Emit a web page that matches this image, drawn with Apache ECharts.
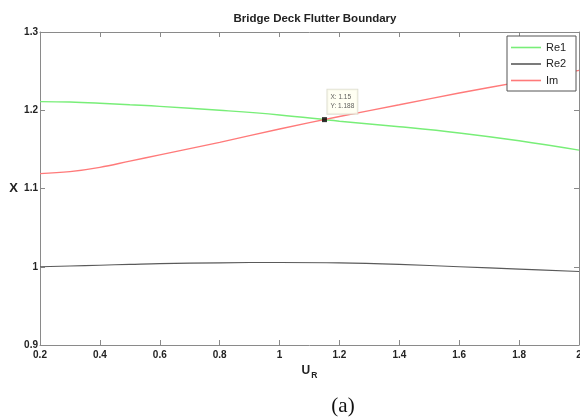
<!DOCTYPE html>
<html>
<head>
<meta charset="utf-8">
<script src="https://cdn.jsdelivr.net/npm/echarts@6/dist/echarts.min.js"></script>
<style>html,body{margin:0;padding:0;background:#fff}#c{width:580px;height:419px}</style>
</head>
<body>
<div id="c"></div>
<script>
const titleText = 'Bridge Deck Flutter Boundary';
const captionText = '(a)';
const xs = [0.2, 0.3, 0.4, 0.5, 0.6, 0.8, 1.0, 1.2, 1.4, 1.6, 1.8, 2.0];
const re1 = [1.211, 1.2105, 1.209, 1.207, 1.205, 1.200, 1.194, 1.186, 1.179, 1.171, 1.161, 1.149];
const re2 = [1.000, 1.001, 1.002, 1.003, 1.004, 1.005, 1.0055, 1.005, 1.003, 1.000, 0.997, 0.994];
const im  = [1.119, 1.1215, 1.127, 1.135, 1.143, 1.159, 1.176, 1.192, 1.207, 1.222, 1.236, 1.251];
const tipPoint = [1.15, 1.188];
const seriesNames = ['Re1', 'Re2', 'Im'];

const pairs = ys => xs.map((x, i) => [x, ys[i]]);
const font = 'Liberation Sans, Arial, sans-serif';

const chart = echarts.init(document.getElementById('c'), null, {renderer: 'canvas'});
const axisCommon = {
  axisLine: {show: true, lineStyle: {color: '#8a8a8a', width: 1}},
  axisTick: {show: true, inside: true, length: 5, lineStyle: {color: '#8a8a8a'}},
  splitLine: {show: false}
};
chart.setOption({
  animation: false,
  backgroundColor: '#fff',
  title: [
    {text: titleText, left: 310, top: 8, textAlign: 'center',
     textStyle: {fontFamily: font, fontSize: 11.5, fontWeight: 'bold', color: '#222'}},
    {text: captionText, left: 338, top: 391, textAlign: 'center',
     textStyle: {fontFamily: 'Liberation Serif, Times New Roman, serif', fontSize: 21, fontWeight: 'normal', color: '#111'}}
  ],
  grid: {left: 40, right: 1, top: 32, bottom: 74, containLabel: false, outerBoundsMode: 'none'},
  legend: {
    data: seriesNames.map(n => ({name: n, icon: 'rect'})), orient: 'vertical', left: 507, top: 36,
    padding: [5, 4, 4, 4], itemWidth: 30, itemHeight: 1.6, itemGap: 3.5,
    backgroundColor: '#fff', borderColor: '#555', borderWidth: 1,
    textStyle: {fontFamily: font, fontSize: 11, color: '#222', width: 26, lineHeight: 13}
  },
  xAxis: [
    Object.assign({type: 'value', min: 0.2, max: 2, interval: 0.2, position: 'bottom',
      name: '{u|U}{r|R}', nameLocation: 'middle', nameGap: 16,
      nameTextStyle: {rich: {
        u: {fontFamily: font, fontSize: 12, fontWeight: 'bold', color: '#222'},
        r: {fontFamily: font, fontSize: 8.5, fontWeight: 'bold', color: '#222', padding: [9, 0, 0, 1]}
      }},
      axisLabel: {fontFamily: font, fontSize: 10, fontWeight: 'bold', color: '#222', margin: 5}
    }, axisCommon),
    Object.assign({type: 'value', min: 0.2, max: 2, interval: 0.2, position: 'top',
      axisLabel: {show: false}}, axisCommon)
  ],
  yAxis: [
    Object.assign({type: 'value', min: 0.9, max: 1.3, interval: 0.1, position: 'left',
      name: 'X', nameLocation: 'middle', nameGap: 22, nameRotate: 0,
      nameTextStyle: {fontFamily: font, fontSize: 13, fontWeight: 'bold', color: '#222'},
      axisLabel: {fontFamily: font, fontSize: 10, fontWeight: 'bold', color: '#222', margin: 2}
    }, axisCommon),
    Object.assign({type: 'value', min: 0.9, max: 1.3, interval: 0.1, position: 'right',
      axisLabel: {show: false}}, axisCommon)
  ],
  series: [
    {name: seriesNames[0], type: 'line', data: pairs(re1), smooth: 0.4, symbol: 'none',
     lineStyle: {color: '#78ee78', width: 1.4}, itemStyle: {color: '#78ee78'}},
    {name: seriesNames[1], type: 'line', data: pairs(re2), smooth: 0.4, symbol: 'none',
     lineStyle: {color: '#5a5a5a', width: 1.1}, itemStyle: {color: '#5a5a5a'}},
    {name: seriesNames[2], type: 'line', data: pairs(im), smooth: 0.4, symbol: 'none',
     lineStyle: {color: '#ff7a7a', width: 1.4}, itemStyle: {color: '#ff7a7a'}},
    {type: 'scatter', data: [tipPoint], symbol: 'rect', symbolSize: 5, z: 5,
     itemStyle: {color: '#000'},
     label: {show: true, position: [5.5, -27.5], align: 'left', verticalAlign: 'top',
       formatter: p => 'X: ' + p.value[0] + '\nY: ' + p.value[1],
       fontFamily: font, fontSize: 6.5, lineHeight: 9, color: '#333',
       backgroundColor: '#fffff0', borderColor: '#d8d8c8', borderWidth: 1, padding: [3, 3]}}
  ]
});
</script>
</body>
</html>
